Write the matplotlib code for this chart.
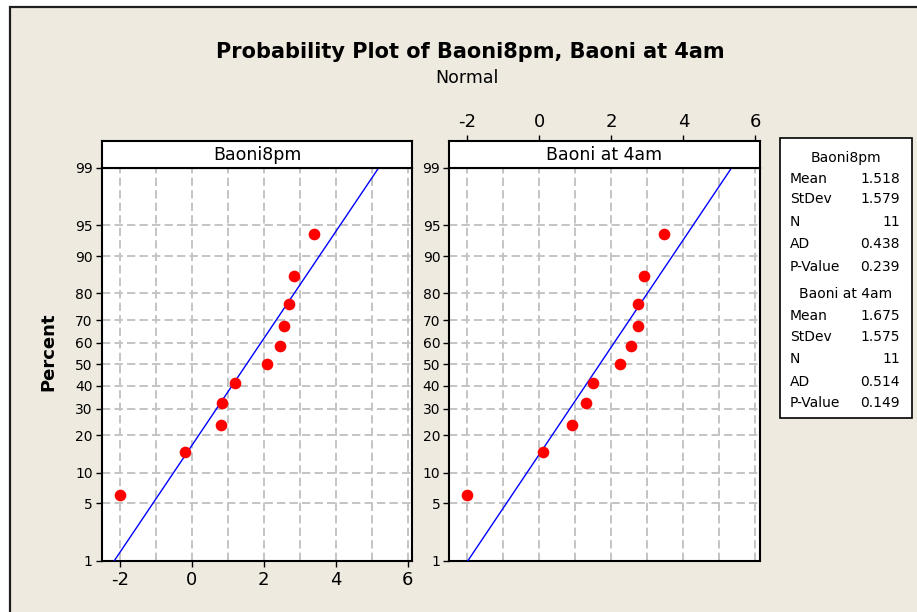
import numpy as np
import matplotlib
matplotlib.use("Agg")
import matplotlib.pyplot as plt
from matplotlib.patches import Rectangle
from statistics import NormalDist

# ---- data -------------------------------------------------------------
series_names = ["Baoni8pm", "Baoni at 4am"]
baoni8pm = [-2.0, -0.2, 0.8, 0.85, 1.2, 2.1, 2.45, 2.55, 2.7, 2.85, 3.4]
baoni4am = [-2.0, 0.1, 0.9, 1.3, 1.5, 2.25, 2.55, 2.75, 2.75, 2.9, 3.45]
percent = [6.1, 14.9, 23.7, 32.5, 41.2, 50.0, 58.8, 67.5, 76.3, 85.1, 93.9]

means = [1.518, 1.675]
stdevs = [1.579, 1.575]
counts = [11, 11]
ad_stats = [0.438, 0.514]
p_values = [0.239, 0.149]

y_ticks = [1, 5, 10, 20, 30, 40, 50, 60, 70, 80, 90, 95, 99]
x_ticks = [-2, 0, 2, 4, 6]
x_grid = [-1, 1, 3, 5]

# ---- style -------------------------------------------------------------
BG = "#EEEAE0"
GRID = "#C4C4C4"
plt.rcParams["font.family"] = ["DejaVu Sans"]
plt.rcParams["lines.scale_dashes"] = False
plt.rcParams["axes.unicode_minus"] = False

W, H = 917, 612
fig = plt.figure(figsize=(W / 100, H / 100), dpi=100)
fig.patch.set_facecolor("white")


def fx(px):
    return px / W


def fy(py):
    return 1 - py / H


# beige graph region with dark top/left edge
fig.add_artist(Rectangle((fx(10), -0.1), 1.2, fy(7) + 0.1,
                         transform=fig.transFigure, facecolor=BG,
                         edgecolor="#1E1E1E", linewidth=1.6, zorder=-10))

_nd = NormalDist()


def probit(p):
    p = np.clip(np.asarray(p, dtype=float), 1e-9, 100 - 1e-9)
    return np.vectorize(lambda v: _nd.inv_cdf(v / 100.0), otypes=[float])(p)


def inv_probit(z):
    z = np.asarray(z, dtype=float)
    return np.vectorize(lambda v: _nd.cdf(v) * 100.0, otypes=[float])(z)


XLIM = (-2.5, 6.12)
panel_left = [101.7, 449.3]
panel_w = 310.5
top_px, bot_px, head_px = 167.7, 561.0, 141.0

for i, (name, vals) in enumerate(zip(series_names, [baoni8pm, baoni4am])):
    L = panel_left[i]
    ax = fig.add_axes([fx(L), fy(bot_px), panel_w / W, (bot_px - top_px) / H])
    ax.set_facecolor("white")
    ax.set_yscale("function", functions=(probit, inv_probit))
    ax.set_ylim(1, 99)
    ax.set_xlim(*XLIM)
    ax.set_yticks(y_ticks)
    ax.set_yticklabels([str(t) for t in y_ticks])
    ax.set_xticks(x_ticks)
    ax.set_xticks(x_grid, minor=True)
    ax.yaxis.set_minor_locator(matplotlib.ticker.NullLocator())
    ax.grid(True, which="both", color=GRID, linewidth=1.4,
            linestyle=(0, (6, 3)), zorder=0)
    ax.set_axisbelow(True)
    ax.tick_params(axis="y", direction="out", length=4.5, width=1.0,
                   pad=2, labelsize=10, colors="black")
    ax.tick_params(axis="x", which="minor", length=0)
    if i == 0:
        ax.tick_params(axis="x", which="major", direction="out", length=4,
                       width=1.0, pad=3, labelsize=13)
    else:
        ax.tick_params(axis="x", which="major", bottom=False,
                       labelbottom=False)
    for s in ax.spines.values():
        s.set_linewidth(1.5)
        s.set_color("black")

    # fitted normal line from the stated mean and standard deviation
    p_line = np.array([1.0, 99.0])
    x_line = means[i] + stdevs[i] * probit(p_line)
    ax.plot(x_line, p_line, color="#0000FF", linewidth=1.0, zorder=3)
    ax.plot(vals, percent, linestyle="none", marker="o", markersize=8.4,
            markerfacecolor="#FF0000", markeredgecolor="#FF0000",
            markeredgewidth=0, zorder=4, clip_on=False)

    # panel header strip
    hx = fig.add_axes([fx(L), fy(top_px), panel_w / W, (top_px - head_px) / H])
    hx.set_facecolor("white")
    hx.set_xlim(*XLIM)
    hx.set_yticks([])
    for s in hx.spines.values():
        s.set_linewidth(1.5)
        s.set_color("black")
    hx.text(0.5, 0.47, name, transform=hx.transAxes, ha="center",
            va="center", fontsize=12.5)
    if i == 1:
        hx.set_xticks(x_ticks)
        hx.tick_params(axis="x", top=True, bottom=False, labeltop=True,
                       labelbottom=False, direction="out", length=4,
                       width=1.0, pad=3, labelsize=13)
    else:
        hx.set_xticks([])

# titles and axis label
fig.text(fx(470), fy(52), "Probability Plot of Baoni8pm, Baoni at 4am",
         ha="center", va="center", fontsize=15, fontweight="bold")
fig.text(fx(467), fy(78), "Normal", ha="center", va="center", fontsize=12.5)
fig.text(fx(48), fy(352), "Percent", ha="center", va="center",
         rotation=90, fontsize=13, fontweight="bold")

# summary statistics box
bx0, bx1, by0, by1 = 780, 912, 138, 418
fig.add_artist(Rectangle((fx(bx0), fy(by1)), (bx1 - bx0) / W, (by1 - by0) / H,
                         transform=fig.transFigure, facecolor="white",
                         edgecolor="black", linewidth=1.2))
row_labels = ["Mean", "StDev", "N", "AD", "P-Value"]
group_tops = [157.7, 294.3]
row_ys = [[179.3, 199.3, 221.7, 244.0, 266.7], [315.7, 336.7, 359.0, 381.7, 403.3]]
for g in range(2):
    fig.text(fx(846), fy(group_tops[g]), series_names[g], ha="center",
             va="center", fontsize=10)
    values = [f"{means[g]:.3f}", f"{stdevs[g]:.3f}", f"{counts[g]}",
              f"{ad_stats[g]:.3f}", f"{p_values[g]:.3f}"]
    for lab, val, yy in zip(row_labels, values, row_ys[g]):
        fig.text(fx(790), fy(yy), lab, ha="left", va="center", fontsize=10)
        fig.text(fx(900), fy(yy), val, ha="right", va="center", fontsize=10)

fig.savefig("out.png", dpi=100, facecolor=fig.get_facecolor())
